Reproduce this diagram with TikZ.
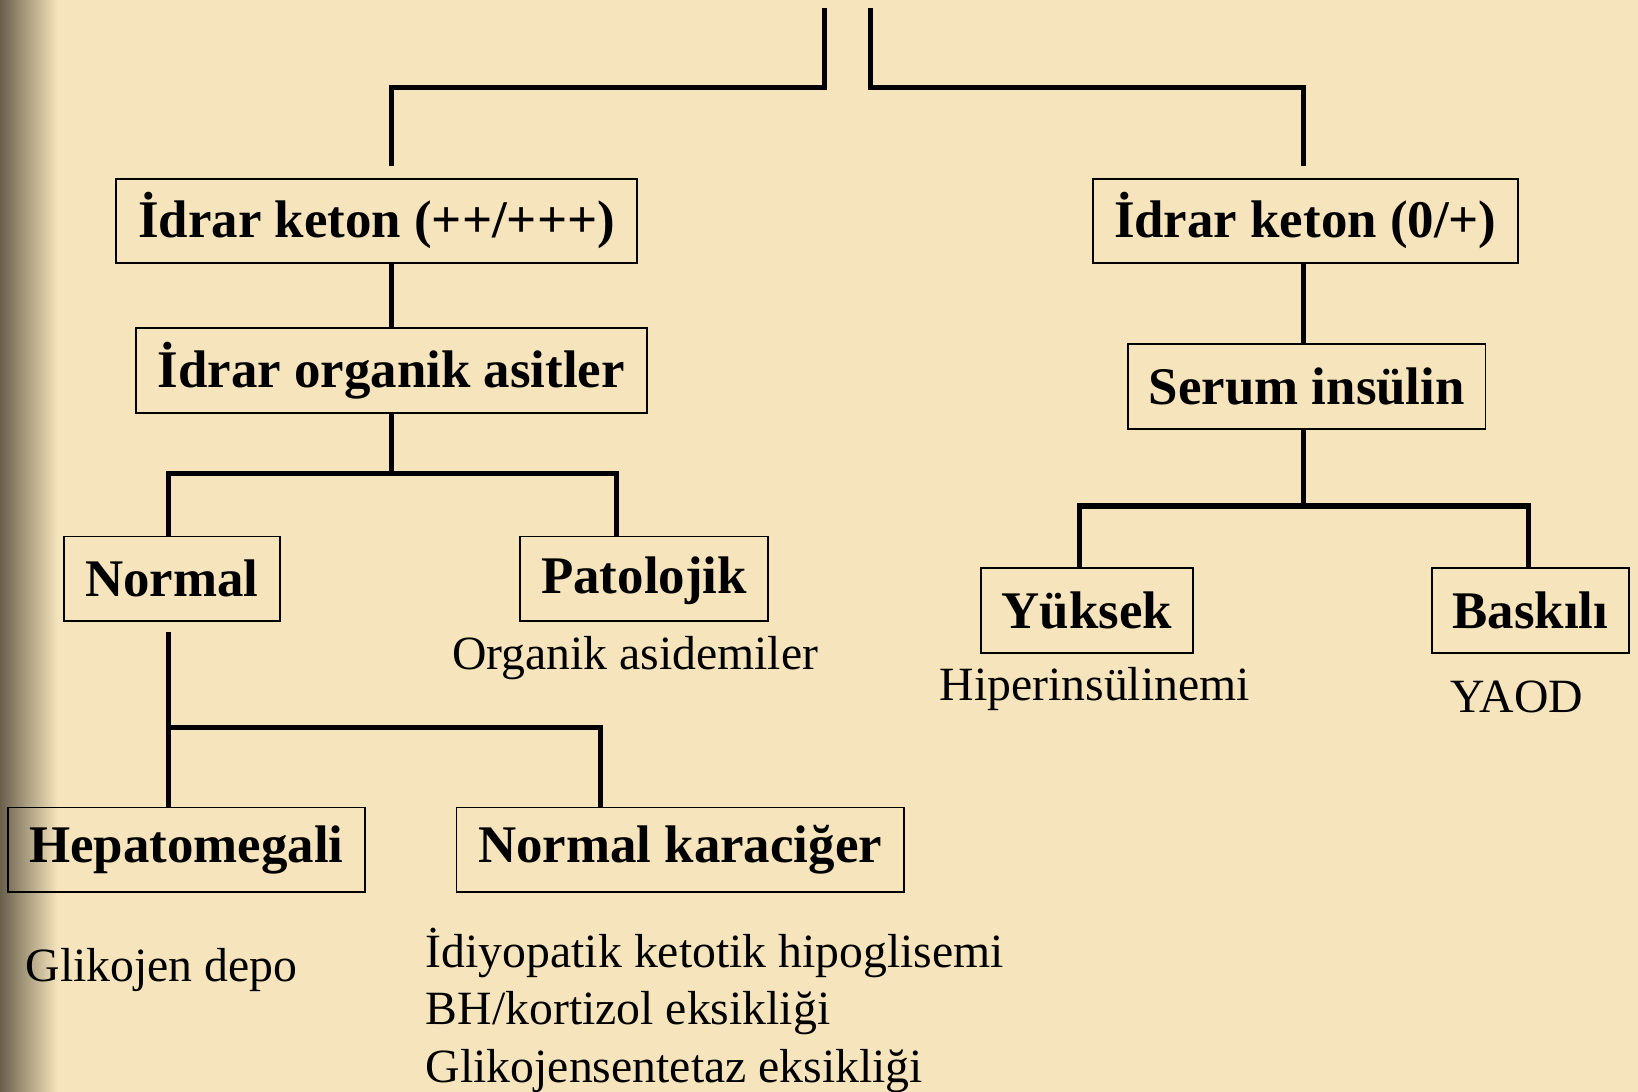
\documentclass[tikz,border=0pt]{standalone}
\usepackage{fontspec}
\setmainfont{Liberation Serif}
\definecolor{slidebg}{RGB}{245,228,188}
\definecolor{slideedge}{RGB}{105,96,76}

\begin{document}
\begin{tikzpicture}[
    box/.style={draw, line width=0.5pt, minimum height=0.81cm, inner sep=0pt,
      font=\fontsize{14.4}{17}\selectfont\bfseries},
    note/.style={inner sep=0pt, font=\fontsize{13}{15.6}\selectfont},
    tree/.style={line width=1.4pt}
  ]
    % slide background with the dark left edge
    \fill[slidebg] (0,0) rectangle (15.68,-10.45);
    \shade[left color=slideedge, right color=slidebg] (0,0) rectangle (0.55,-10.45);
    \useasboundingbox (0,0) rectangle (15.68,-10.45);

    % Urine ketone level
    \coordinate (topL) at (7.89,-0.08);
    \coordinate (topR) at (8.33,-0.08);
    \node[box, minimum width=4.99cm] (k1) at (3.605,-2.115) {İdrar keton (++/+++)};
    \node[box, minimum width=4.07cm] (k2) at (12.495,-2.115) {İdrar keton (0/+)};

    % Second tests
    \node[box, minimum width=4.89cm] (oa) at (3.745,-3.545) {İdrar organik asitler};
    \node[box, minimum width=3.42cm] (si) at (12.51,-3.70) {Serum insülin};

    % Results
    \node[box, minimum width=2.07cm] (nor) at (1.645,-5.54) {Normal};
    \node[box, minimum width=2.37cm, text height=1.1em] (pat) at (6.165,-5.54) {Patolojik};
    \node[box, minimum width=2.03cm] (yuk) at (10.405,-5.845) {Yüksek};
    \node[box, minimum width=1.88cm] (bas) at (14.65,-5.845) {Baskılı};
    \node[note] (oas) at (6.08,-6.30) {Organik asidemiler};
    \node[note] (hip) at (10.48,-6.60) {Hiperinsülinemi};
    \node[note] (yaod) at (14.52,-6.67) {YAOD};

    % Liver
    \node[box, minimum width=3.41cm] (hep) at (1.785,-8.135) {Hepatomegali};
    \node[box, minimum width=4.28cm] (nk) at (6.51,-8.135) {Normal karaciğer};
    \node[note, anchor=west] (gd) at (0.24,-9.29) {Glikojen depo};
    \node[note, anchor=west, align=left] (nkl) at (4.07,-9.67)
      {İdiyopatik ketotik hipoglisemi\\BH/kortizol eksikliği\\Glikojensentetaz eksikliği};

    % Connectors
    \draw[tree, shorten >=0.11cm] (topL) -- ++(0,-0.76) -| (oa.north |- k1.north);
    \draw[tree, shorten >=0.11cm] (topR) -- ++(0,-0.76) -| ([xshift=-0.015cm]k2.north);
    \draw[tree] (k1.south -| oa.north) -- (oa.north);
    \draw[tree] ([xshift=-0.015cm]k2.south) -- ([xshift=-0.015cm]k2.south |- si.north);
    \draw[tree] (oa.south) -- ++(0,-0.57) coordinate (f1);
    \draw[tree] ([xshift=-0.035cm]nor.north) |- (f1) -| ([xshift=-0.265cm]pat.north);
    \draw[tree] ([xshift=-0.03cm]si.south) -- ++(0,-0.73) coordinate (f2);
    \draw[tree] ([xshift=-0.075cm]yuk.north) |- (f2) -| ([xshift=-0.02cm]bas.north);
    \draw[tree, shorten <=0.10cm] ([xshift=-0.035cm]nor.south) -- ([xshift=-0.035cm]nor.south |- hep.north);
    \draw[tree] ([xshift=-0.035cm]nor.south |- hep.north) ++(0,0.76) -| ([xshift=-0.76cm]nk.north);
\end{tikzpicture}
\end{document}
